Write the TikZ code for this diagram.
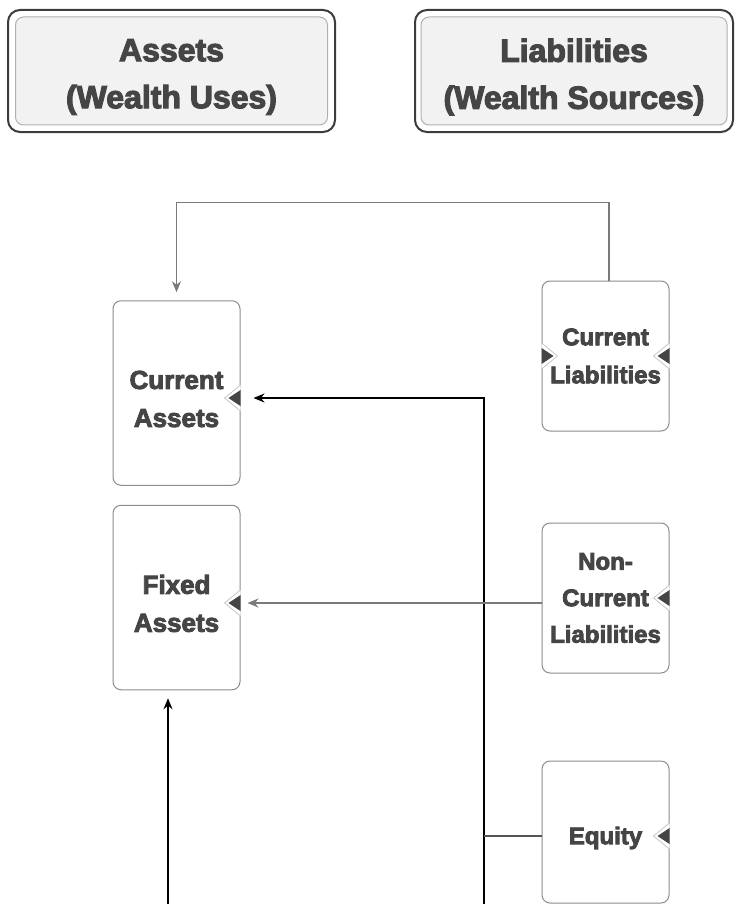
\documentclass[tikz,border=0pt]{standalone}
\usepackage{fontspec}
\setmainfont{Liberation Sans}
\newfontfamily\heavyfont{Liberation Sans Bold}[FakeBold=3.5]
\usetikzlibrary{arrows.meta}
\definecolor{txt}{HTML}{454545}
\definecolor{boxline}{HTML}{8C8C8C}
\definecolor{link}{HTML}{7A7A7A}
\definecolor{eqline}{HTML}{555555}
\definecolor{headfill}{HTML}{F2F2F2}
\definecolor{headline}{HTML}{B0B0B0}
\definecolor{framecol}{HTML}{3C3C3C}

\begin{document}
\begin{tikzpicture}[>={Stealth[length=5.5pt,width=4.5pt]}, line width=0.75pt,
	hframe/.style = {draw=framecol,line width=1pt,rounded corners=6pt,minimum width=163.5pt,minimum height=61pt},
	headbox/.style = {draw=headline,line width=0.5pt,fill=headfill,rounded corners=4pt,minimum width=156pt,minimum height=54pt},
	htext/.style = {align=center,text=txt,yshift=-3pt,font=\heavyfont\fontsize{16pt}{23.5pt}\selectfont},
	main/.style = {draw=boxline,line width=0.5pt,rounded corners=4pt,minimum width=63.5pt,minimum height=75pt,align=center,text=txt,font=\heavyfont\fontsize{12pt}{19pt}\selectfont},
	asset/.style = {main,minimum height=92.25pt},
	atext/.style = {align=center,text=txt,yshift=-3pt,font=\heavyfont\fontsize{13pt}{19pt}\selectfont},
	ltext/.style = {text=txt,yshift=-3pt,font=\heavyfont\fontsize{12pt}{19pt}\selectfont},
	notch/.style = {fill=white,draw=gray!45,line width=0.4pt},
	port/.style = {fill=txt}]
		\useasboundingbox (0,0) rectangle (367pt,-452pt);
		
		%Headers
		\node[hframe] (1) at (85.75pt,-35.5pt) {};
		\node[headbox,label={[htext]center:Assets\\(Wealth Uses)}] (2) at (1) {};
		\node[hframe,minimum width=159pt] (3) [node distance=201.25pt,right of=1] {};
		\node[headbox,minimum width=153pt,label={[htext]center:Liabilities\\(Wealth Sources)}] (4) at (3) {};
		
		%Assets on the left
		\node[asset,label={[atext]center:Current\\Assets}] (5) at (88.25pt,-196.5pt) {};
		\node[asset,label={[atext]center:Fixed\\Assets}] (6) [node distance=102.25pt,below of=5] {};
		
		%Liabilities on the right
		\node[main] (7) at (302.75pt,-178pt) {Current\\Liabilities};
		\node[main,font=\heavyfont\fontsize{12pt}{18.25pt}\selectfont] (8) [node distance=121pt,below of=7] {Non-\\Current\\Liabilities};
		\node[main,minimum height=71pt,label={[ltext]center:Equity}] (9) [node distance=117pt,below of=8] {};
		
		%Ports and loose ends
		\coordinate (10) at ([yshift=-2.5pt]5.east);
		\coordinate (11) at ([yshift=-2.75pt]6.east);
		\coordinate (12) at (242pt,-460pt);
		\coordinate (13) at (84pt,-460pt);
		
		%Port markers
		\filldraw[notch] ([yshift=6.5pt]10) -- ++(-8pt,-6.5pt) -- ++(8pt,-6.5pt); %Current Assets
		\fill[port] ([yshift=4pt]10) -- ++(-6pt,-4pt) -- ++(6pt,-4pt) -- cycle;
		\filldraw[notch] ([yshift=6.5pt]11) -- ++(-8pt,-6.5pt) -- ++(8pt,-6.5pt); %Fixed Assets
		\fill[port] ([yshift=4pt]11) -- ++(-6pt,-4pt) -- ++(6pt,-4pt) -- cycle;
		\filldraw[notch] ([yshift=6.5pt]7.west) -- ++(8pt,-6.5pt) -- ++(-8pt,-6.5pt); %Current Liabilities in
		\fill[port] ([yshift=4pt]7.west) -- ++(6pt,-4pt) -- ++(-6pt,-4pt) -- cycle;
		\filldraw[notch] ([yshift=6.5pt]7.east) -- ++(-8pt,-6.5pt) -- ++(8pt,-6.5pt); %Current Liabilities out
		\fill[port] ([yshift=4pt]7.east) -- ++(-6pt,-4pt) -- ++(6pt,-4pt) -- cycle;
		\filldraw[notch] ([yshift=6.5pt]8.east) -- ++(-8pt,-6.5pt) -- ++(8pt,-6.5pt); %Non-Current Liabilities
		\fill[port] ([yshift=4pt]8.east) -- ++(-6pt,-4pt) -- ++(6pt,-4pt) -- cycle;
		\filldraw[notch] ([yshift=4.5pt]9.east) -- ++(-8pt,-6.5pt) -- ++(8pt,-6.5pt); %Equity
		\fill[port] ([yshift=2pt]9.east) -- ++(-6pt,-4pt) -- ++(6pt,-4pt) -- cycle;
		
		%Connectors
		\draw[->,draw=link,shorten >=4pt] ([xshift=1.75pt]7.north) -- ++(0,39pt) -| (5.north); %Current Liabilities -> Current Assets
		\draw[->,draw=black,shorten >=6.5pt] (12) |- (10); %from below -> Current Assets
		\draw[draw=eqline] ([yshift=-2pt]9.west) -- ([yshift=-2pt]9.west -| 12); %Equity joins the line
		\draw[->,draw=link,shorten >=3.5pt] (11 -| 8.west) -- (11); %Non-Current Liabilities -> Fixed Assets
		\draw[->,draw=black,shorten >=4pt] (13) -- (13 |- 6.south); %from below -> Fixed Assets
	\end{tikzpicture}
\end{document}
